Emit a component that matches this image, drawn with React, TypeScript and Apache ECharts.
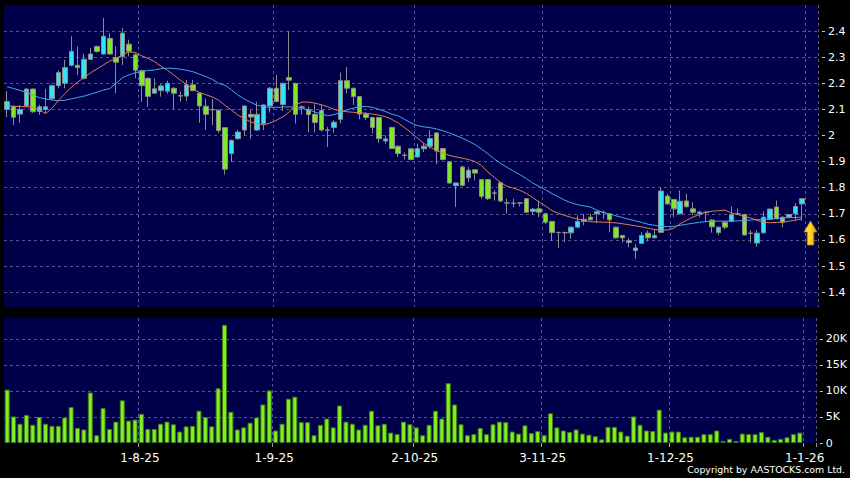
import React, { useEffect, useRef } from "react";
import * as echarts from "echarts";

// ---------- categories (HK trading days, Jul 3 2025 .. Dec 31 2025, plus two empty future slots) ----------
const START_DATE = "2025-07-03";
const END_DATE = "2026-01-02";
const HOLIDAYS = ["2025-10-01", "2025-10-07", "2025-10-29", "2025-12-25", "2025-12-26"];

function buildDays(start: string, end: string, holidays: string[]): string[] {
  const out: string[] = [];
  const d = new Date(start + "T00:00:00Z");
  const e = new Date(end + "T00:00:00Z");
  while (d.getTime() <= e.getTime()) {
    const wd = d.getUTCDay();
    const s = d.toISOString().slice(0, 10);
    if (wd !== 0 && wd !== 6 && holidays.indexOf(s) < 0) out.push(s);
    d.setUTCDate(d.getUTCDate() + 1);
  }
  return out;
}
const dates = buildDays(START_DATE, END_DATE, HOLIDAYS);

// ---------- OHLC ----------
const openP = [
  2.10, 2.11, 2.082, 2.113, 2.178, 2.092, 2.10, 2.141, 2.191, 2.20,
  2.269, 2.269, 2.219, 2.292, 2.341, 2.312, 2.372, 2.299, 2.303, 2.35,
  2.309, 2.249, 2.219, 2.162, 2.172, 2.17, 2.181, 2.153, 2.151, 2.194,
  2.162, 2.112, 2.10, 2.097, 2.03, 1.931, 1.988, 2.021, 2.081, 2.021,
  2.046, 2.113, 2.181, 2.119, 2.222, 2.20, 2.11, 2.10, 2.081, 2.096,
  2.021, 2.031, 2.062, 2.21, 2.181, 2.149, 2.082, 2.069, 2.069, 1.979,
  2.031, 1.959, 1.925, 1.949, 1.918, 1.949, 1.959, 2.01, 1.95, 1.899,
  1.808, 1.879, 1.838, 1.869, 1.831, 1.831, 1.78, 1.819, 1.742, 1.741,
  1.742, 1.758, 1.709, 1.719, 1.70, 1.671, 1.629, 1.628, 1.627, 1.649,
  1.679, 1.687, 1.70, 1.706, 1.70, 1.649, 1.617, 1.59, 1.559, 1.587,
  1.626, 1.608, 1.629, 1.768, 1.755, 1.70, 1.749, 1.719, 1.70, 1.706,
  1.676, 1.628, 1.668, 1.671, 1.70, 1.697, 1.626, 1.588, 1.627, 1.679,
  1.726, 1.687, 1.687, 1.70, 1.738,
];
const closeP = [
  2.13, 2.07, 2.10, 2.178, 2.091, 2.11, 2.11, 2.191, 2.241, 2.26,
  2.322, 2.26, 2.292, 2.312, 2.322, 2.38, 2.312, 2.281, 2.392, 2.323,
  2.25, 2.191, 2.15, 2.179, 2.19, 2.20, 2.162, 2.151, 2.194, 2.172,
  2.113, 2.081, 2.098, 2.019, 1.871, 1.981, 2.013, 2.113, 2.071, 2.081,
  2.117, 2.181, 2.13, 2.20, 2.212, 2.081, 2.108, 2.08, 2.05, 2.021,
  2.02, 2.051, 2.21, 2.181, 2.149, 2.082, 2.069, 2.031, 1.988, 1.987,
  1.95, 1.931, 1.924, 1.908, 1.95, 1.959, 1.988, 1.941, 1.908, 1.818,
  1.818, 1.809, 1.867, 1.856, 1.767, 1.758, 1.779, 1.749, 1.741, 1.74,
  1.741, 1.706, 1.718, 1.706, 1.668, 1.628, 1.628, 1.627, 1.649, 1.671,
  1.671, 1.677, 1.708, 1.705, 1.677, 1.608, 1.608, 1.597, 1.569, 1.617,
  1.608, 1.617, 1.787, 1.738, 1.719, 1.748, 1.727, 1.706, 1.707, 1.705,
  1.65, 1.649, 1.649, 1.697, 1.699, 1.619, 1.625, 1.626, 1.687, 1.718,
  1.681, 1.668, 1.697, 1.728, 1.758,
];
const lowP = [
  2.07, 2.04, 2.049, 2.11, 2.087, 2.079, 2.085, 2.135, 2.181, 2.181,
  2.265, 2.232, 2.215, 2.29, 2.318, 2.31, 2.31, 2.162, 2.27, 2.303,
  2.219, 2.129, 2.11, 2.16, 2.149, 2.16, 2.101, 2.13, 2.132, 2.17,
  2.049, 2.021, 2.04, 2.01, 1.85, 1.899, 1.985, 1.999, 1.988, 2.018,
  2.021, 2.088, 2.128, 2.094, 2.174, 2.046, 2.08, 2.012, 2.012, 2.015,
  1.956, 2.01, 2.046, 2.162, 2.117, 2.062, 2.06, 2.008, 1.972, 1.969,
  1.948, 1.918, 1.908, 1.905, 1.915, 1.937, 1.95, 1.89, 1.905, 1.815,
  1.726, 1.806, 1.822, 1.828, 1.758, 1.752, 1.751, 1.745, 1.70, 1.725,
  1.728, 1.704, 1.695, 1.687, 1.66, 1.597, 1.569, 1.591, 1.604, 1.647,
  1.656, 1.675, 1.665, 1.68, 1.63, 1.606, 1.591, 1.572, 1.527, 1.585,
  1.594, 1.606, 1.627, 1.735, 1.687, 1.698, 1.725, 1.695, 1.687, 1.668,
  1.628, 1.618, 1.64, 1.669, 1.695, 1.617, 1.59, 1.574, 1.625, 1.676,
  1.679, 1.649, 1.685, 1.674, 1.674,
];
const highP = [
  2.17, 2.115, 2.117, 2.18, 2.18, 2.118, 2.178, 2.195, 2.249, 2.29,
  2.38, 2.341, 2.313, 2.335, 2.345, 2.45, 2.392, 2.341, 2.412, 2.367,
  2.315, 2.252, 2.222, 2.219, 2.197, 2.21, 2.185, 2.168, 2.213, 2.213,
  2.165, 2.142, 2.14, 2.10, 2.032, 1.985, 2.021, 2.115, 2.097, 2.13,
  2.12, 2.187, 2.232, 2.202, 2.40, 2.202, 2.115, 2.11, 2.119, 2.117,
  2.033, 2.059, 2.241, 2.262, 2.183, 2.15, 2.09, 2.07, 2.07, 2.001,
  2.033, 1.962, 1.935, 1.951, 1.969, 1.972, 2.021, 2.012, 1.952, 1.90,
  1.82, 1.885, 1.879, 1.871, 1.833, 1.833, 1.79, 1.821, 1.758, 1.758,
  1.745, 1.76, 1.722, 1.751, 1.705, 1.673, 1.632, 1.632, 1.651, 1.694,
  1.70, 1.70, 1.712, 1.712, 1.702, 1.651, 1.619, 1.607, 1.585, 1.63,
  1.636, 1.642, 1.80, 1.777, 1.757, 1.79, 1.777, 1.745, 1.71, 1.71,
  1.678, 1.651, 1.672, 1.728, 1.72, 1.70, 1.637, 1.637, 1.709, 1.72,
  1.751, 1.69, 1.699, 1.741, 1.76,
];

// ---------- moving averages ----------
const maShort = [
  2.114, 2.112, 2.111, 2.110, 2.108, 2.098, 2.084, 2.105, 2.135, 2.16,
  2.185, 2.205, 2.222, 2.24, 2.255, 2.27, 2.285, 2.295, 2.31, 2.32,
  2.318, 2.305, 2.295, 2.283, 2.265, 2.25, 2.232, 2.212, 2.195, 2.178,
  2.165, 2.156, 2.148, 2.135, 2.115, 2.097, 2.078, 2.065, 2.052, 2.045,
  2.04, 2.048, 2.058, 2.072, 2.09, 2.118, 2.128, 2.128, 2.124, 2.118,
  2.11, 2.10, 2.094, 2.091, 2.089, 2.087, 2.085, 2.082, 2.078, 2.072,
  2.062, 2.048, 2.03, 2.012, 1.99, 1.97, 1.955, 1.942, 1.932, 1.924,
  1.918, 1.913, 1.908, 1.90, 1.885, 1.86, 1.84, 1.82, 1.805, 1.798,
  1.79, 1.778, 1.762, 1.745, 1.73, 1.712, 1.702, 1.694, 1.686, 1.68,
  1.675, 1.67, 1.669, 1.668, 1.667, 1.665, 1.662, 1.658, 1.654, 1.65,
  1.645, 1.64, 1.637, 1.638, 1.645, 1.662, 1.675, 1.688, 1.697, 1.706,
  1.71, 1.712, 1.714, 1.703, 1.697, 1.69, 1.684, 1.675, 1.668, 1.666,
  1.667, 1.668, 1.672, 1.676, 1.68,
];
const maLong = [
  2.187, 2.18, 2.173, 2.165, 2.155, 2.145, 2.14, 2.136, 2.133, 2.135,
  2.14, 2.146, 2.151, 2.158, 2.166, 2.174, 2.18, 2.20, 2.222, 2.232,
  2.241, 2.246, 2.249, 2.251, 2.256, 2.258, 2.257, 2.254, 2.25, 2.244,
  2.235, 2.226, 2.215, 2.20, 2.192, 2.175, 2.155, 2.14, 2.127, 2.116,
  2.11, 2.108, 2.108, 2.109, 2.11, 2.108, 2.104, 2.098, 2.09, 2.082,
  2.076, 2.08, 2.09, 2.098, 2.105, 2.11, 2.111, 2.108, 2.10, 2.092,
  2.082, 2.075, 2.062, 2.048, 2.038, 2.033, 2.03, 2.025, 2.018, 2.01,
  2.00, 1.99, 1.978, 1.965, 1.948, 1.93, 1.91, 1.893, 1.878, 1.863,
  1.85, 1.835, 1.818, 1.805, 1.792, 1.777, 1.765, 1.752, 1.742, 1.735,
  1.73, 1.726, 1.714, 1.705, 1.70, 1.692, 1.686, 1.679, 1.673, 1.667,
  1.66, 1.656, 1.652, 1.651, 1.652, 1.656, 1.66, 1.664, 1.667, 1.67,
  1.671, 1.672, 1.672, 1.672, 1.673, 1.674, 1.676, 1.678, 1.679, 1.68,
  1.682, 1.684, 1.685, 1.686, 1.687,
];

// ---------- volume (shares) ----------
const volume = [
  10250, 5100, 3700, 5400, 3500, 5000, 3700, 3300, 3300, 4900,
  6900, 2900, 2600, 9700, 1500, 6700, 2700, 4100, 8200, 4300,
  4500, 5600, 2700, 2700, 3700, 4100, 3600, 2200, 3200, 3300,
  6200, 5000, 3200, 10500, 22700, 6000, 2600, 3000, 3900, 4900,
  7400, 10100, 2400, 3700, 8500, 8900, 4000, 4000, 1500, 3500,
  4700, 3000, 7200, 4100, 3700, 2600, 3500, 6200, 3400, 3700,
  2000, 1700, 4100, 3600, 3000, 1500, 3500, 6200, 4700, 11500,
  7400, 3600, 1500, 1700, 2900, 1700, 3600, 4100, 4000, 2200,
  1800, 3400, 1900, 2300, 1500, 5700, 3000, 2400, 2100, 2600,
  1800, 1600, 1300, 700, 3100, 3100, 2200, 1400, 5100, 3500,
  2400, 2300, 6400, 2000, 2200, 2200, 1100, 1200, 1200, 1700,
  1700, 2400, 400, 800, 400, 1800, 1700, 1700, 2100, 1200,
  600, 800, 1100, 1700, 2000,
];

// ---------- axis ticks ----------
const priceTicks = [1.4, 1.5, 1.6, 1.7, 1.8, 1.9, 2.0, 2.1, 2.2, 2.3, 2.4];
const volumeTicks = [0, 5000, 10000, 15000, 20000];

const NAVY = "#00004a";
const GRID_LINE = { color: "#56568c", type: [3, 3] as any, width: 1 };

function isMonthStart(idx: number): boolean {
  if (idx <= 0 || idx >= dates.length) return false;
  return dates[idx].slice(0, 7) !== dates[idx - 1].slice(0, 7);
}
function fmtDate(s: string): string {
  const y = s.slice(2, 4);
  const m = parseInt(s.slice(5, 7), 10);
  const d = parseInt(s.slice(8, 10), 10);
  return `${d}-${m}-${y}`;
}

export default function App() {
  const ref = useRef<HTMLDivElement>(null);
  useEffect(() => {
    if (!ref.current) return;
    const chart = echarts.init(ref.current, undefined, { renderer: "svg" });
    const candles = openP.map((o, i) => [o, closeP[i], lowP[i], highP[i]]);
    const option: any = {
      animation: false,
      backgroundColor: "#000000",
      grid: [
        { left: 4, right: 32, top: 5, height: 302, show: true, backgroundColor: NAVY, borderWidth: 0 },
        { left: 4, right: 32, top: 318, height: 125, show: true, backgroundColor: NAVY, borderWidth: 0 },
      ],
      xAxis: [
        {
          type: "category",
          gridIndex: 0,
          data: dates,
          boundaryGap: true,
          axisLine: { show: false },
          axisTick: { show: false },
          axisLabel: { show: false },
          splitLine: { show: true, interval: (i: number) => isMonthStart(i), lineStyle: GRID_LINE },
        },
        {
          type: "category",
          gridIndex: 1,
          data: dates,
          boundaryGap: true,
          offset: 3,
          axisLine: { show: false },
          axisTick: {
            show: true,
            length: 4,
            interval: (i: number) => isMonthStart(i),
            lineStyle: { color: "#9a9a9a" },
          },
          axisLabel: {
            show: true,
            interval: (i: number) => isMonthStart(i),
            formatter: (v: string) => fmtDate(v),
            color: "#ffffff",
            fontSize: 12,
            fontFamily: "DejaVu Sans",
            margin: 6,
            padding: [0, 3, 0, 0],
          },
          splitLine: { show: true, interval: (i: number) => isMonthStart(i), lineStyle: GRID_LINE },
        },
      ],
      yAxis: [
        {
          type: "value",
          gridIndex: 0,
          position: "right",
          min: 1.343,
          max: 2.5,
          offset: 4,
          axisLine: { show: false },
          axisTick: { show: true, length: 3, customValues: priceTicks, lineStyle: { color: "#c8c8c8" } },
          axisLabel: {
            customValues: priceTicks,
            color: "#ffffff",
            fontSize: 11,
            fontFamily: "DejaVu Sans",
            margin: 6,
            formatter: (v: number) => String(Math.round(v * 10) / 10),
          },
          splitLine: { show: true, lineStyle: GRID_LINE },
        },
        {
          type: "value",
          gridIndex: 1,
          position: "right",
          min: 0,
          max: 24000,
          offset: 4,
          axisLine: { show: false },
          axisTick: { show: true, length: 3, customValues: volumeTicks, lineStyle: { color: "#c8c8c8" } },
          axisLabel: {
            customValues: volumeTicks,
            color: "#ffffff",
            fontSize: 11,
            fontFamily: "DejaVu Sans",
            margin: 6,
            formatter: (v: number) => (v === 0 ? "0" : `${Math.round(v / 1000)}K`),
          },
          splitLine: { show: true, showMinLine: false, lineStyle: GRID_LINE },
        },
      ],
      series: [
        {
          type: "candlestick",
          xAxisIndex: 0,
          yAxisIndex: 0,
          data: candles,
          barWidth: 5,
          itemStyle: {
            color: "#33e4f0",
            color0: "#80e828",
            borderColor: "#8c8c8c",
            borderColor0: "#8c8c8c",
            borderWidth: 1,
          },
          z: 2,
        },
        {
          type: "line",
          xAxisIndex: 0,
          yAxisIndex: 0,
          data: maLong,
          symbol: "none",
          lineStyle: { color: "#45a6e6", width: 1 },
          z: 3,
        },
        {
          type: "line",
          xAxisIndex: 0,
          yAxisIndex: 0,
          data: maShort,
          symbol: "none",
          lineStyle: { color: "#dc7f4c", width: 1 },
          z: 4,
        },
        {
          type: "bar",
          xAxisIndex: 1,
          yAxisIndex: 1,
          data: volume,
          barWidth: 5,
          itemStyle: { color: "#80f020", borderColor: "#3f7d12", borderWidth: 1 },
        },
      ],
      graphic: [
        {
          type: "polygon",
          z: 100,
          shape: {
            points: [
              [810.5, 221],
              [817, 232],
              [813.8, 232],
              [813.8, 245],
              [807.2, 245],
              [807.2, 232],
              [804, 232],
            ],
          },
          style: {
            fill: new echarts.graphic.LinearGradient(0, 0, 1, 0, [
              { offset: 0, color: "#ffe070" },
              { offset: 0.5, color: "#ffd21e" },
              { offset: 1, color: "#e09a00" },
            ]),
            stroke: "#b07a00",
            lineWidth: 0.8,
          },
        },
        {
          type: "text",
          right: 5,
          top: 465,
          z: 100,
          style: {
            text: "Copyright by AASTOCKS.com Ltd.",
            fill: "#ffffff",
            font: "9.4px 'DejaVu Sans'",
          },
        },
      ],
    };
    chart.setOption(option);
    return () => chart.dispose();
  }, []);
  return (
    <div
      style={{ position: "fixed", left: 0, top: 0, width: 850, height: 478, background: "#000" }}
    >
      <div ref={ref} style={{ width: 850, height: 478 }} />
    </div>
  );
}
